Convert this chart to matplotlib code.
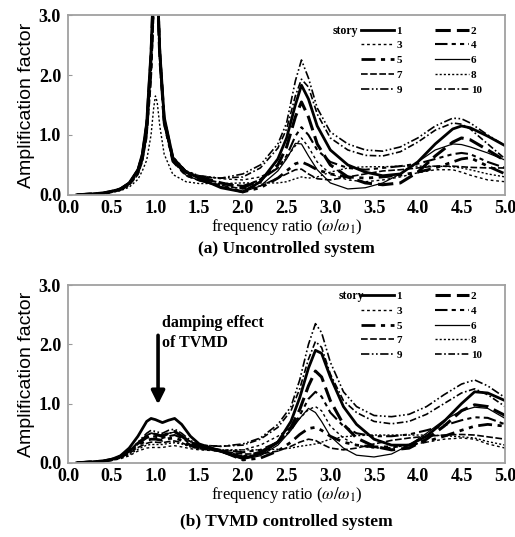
import matplotlib
matplotlib.use("Agg")
import matplotlib.pyplot as plt

plt.rcParams['font.family'] = ['Liberation Serif', 'DejaVu Serif']
plt.rcParams['mathtext.fontset'] = 'stix'

# frequency ratio grid, panel (a) uncontrolled
xa = [0.1, 0.2, 0.4, 0.5, 0.6, 0.7, 0.8, 0.85, 0.9, 0.95, 0.98, 1.0, 1.02, 1.05, 1.1, 1.2, 1.35, 1.5, 1.75,
      2.0, 2.2, 2.4, 2.5, 2.6, 2.67, 2.75, 2.85, 3.0, 3.2, 3.4, 3.6, 3.8, 4.0, 4.2, 4.4, 4.5, 4.6, 4.8, 5.0]

a1 = [0, 0.01, 0.03, 0.06, 0.1, 0.2, 0.42, 0.68, 1.2, 2.4, 3.6, 4.0, 3.6, 2.4, 1.3, 0.62, 0.38, 0.28, 0.12,
      0.05, 0.22, 0.6, 0.95, 1.5, 1.83, 1.6, 1.15, 0.75, 0.5, 0.38, 0.32, 0.35, 0.55, 0.85, 1.1, 1.15, 1.12, 0.98, 0.82]
a2 = [0, 0.01, 0.03, 0.06, 0.1, 0.19, 0.4, 0.65, 1.15, 2.3, 3.5, 4.0, 3.5, 2.3, 1.25, 0.6, 0.38, 0.3, 0.2,
      0.12, 0.25, 0.5, 0.8, 1.3, 1.55, 1.3, 0.85, 0.5, 0.3, 0.2, 0.17, 0.2, 0.38, 0.65, 0.88, 0.95, 0.92, 0.75, 0.57]
a3 = [0, 0.01, 0.02, 0.05, 0.09, 0.17, 0.36, 0.58, 1.0, 2.0, 3.2, 4.0, 3.8, 2.5, 1.3, 0.64, 0.4, 0.32, 0.27,
      0.25, 0.3, 0.45, 0.62, 0.82, 0.95, 0.8, 0.55, 0.35, 0.25, 0.22, 0.25, 0.3, 0.37, 0.42, 0.42, 0.38, 0.33, 0.25, 0.22]
a4 = [0, 0.01, 0.03, 0.06, 0.1, 0.19, 0.4, 0.64, 1.12, 2.25, 3.4, 4.0, 3.5, 2.3, 1.22, 0.58, 0.36, 0.28, 0.2,
      0.15, 0.25, 0.45, 0.65, 0.98, 1.13, 1.0, 0.75, 0.55, 0.45, 0.42, 0.45, 0.48, 0.52, 0.6, 0.68, 0.7, 0.68, 0.55, 0.45]
a5 = [0, 0.01, 0.02, 0.05, 0.09, 0.17, 0.37, 0.6, 1.05, 2.1, 3.3, 4.0, 3.6, 2.35, 1.2, 0.56, 0.33, 0.25, 0.15,
      0.05, 0.12, 0.28, 0.4, 0.52, 0.55, 0.5, 0.42, 0.35, 0.3, 0.28, 0.3, 0.33, 0.38, 0.45, 0.55, 0.6, 0.62, 0.48, 0.35]
a6 = [0, 0.01, 0.03, 0.06, 0.11, 0.21, 0.44, 0.7, 1.25, 2.5, 3.7, 4.0, 3.4, 2.2, 1.15, 0.56, 0.33, 0.24, 0.14,
      0.05, 0.15, 0.4, 0.6, 0.86, 0.85, 0.65, 0.42, 0.2, 0.1, 0.12, 0.2, 0.35, 0.55, 0.75, 0.85, 0.84, 0.8, 0.7, 0.58]
a7 = [0, 0.01, 0.02, 0.05, 0.09, 0.16, 0.34, 0.55, 0.95, 1.9, 3.0, 3.8, 3.7, 2.5, 1.25, 0.56, 0.32, 0.24, 0.16,
      0.1, 0.15, 0.28, 0.35, 0.42, 0.43, 0.35, 0.27, 0.25, 0.3, 0.35, 0.4, 0.42, 0.45, 0.48, 0.48, 0.47, 0.46, 0.45, 0.45]
a8 = [0, 0.01, 0.02, 0.04, 0.07, 0.13, 0.26, 0.4, 0.58, 1.0, 1.45, 1.65, 1.55, 1.15, 0.68, 0.34, 0.22, 0.19, 0.19,
      0.2, 0.2, 0.2, 0.22, 0.27, 0.3, 0.28, 0.3, 0.38, 0.45, 0.47, 0.47, 0.48, 0.48, 0.48, 0.47, 0.45, 0.42, 0.35, 0.3]
a9 = [0, 0.01, 0.03, 0.06, 0.1, 0.2, 0.42, 0.67, 1.18, 2.35, 3.5, 4.0, 3.6, 2.4, 1.28, 0.62, 0.4, 0.32, 0.28,
      0.35, 0.5, 0.85, 1.2, 1.9, 2.25, 1.95, 1.45, 1.05, 0.85, 0.75, 0.73, 0.8, 0.95, 1.15, 1.28, 1.27, 1.2, 1.0, 0.82]
a10 = [0, 0.01, 0.03, 0.06, 0.1, 0.19, 0.41, 0.66, 1.15, 2.3, 3.5, 4.0, 3.6, 2.4, 1.25, 0.6, 0.38, 0.3, 0.28,
       0.3, 0.45, 0.78, 1.1, 1.65, 1.93, 1.8, 1.35, 0.95, 0.75, 0.66, 0.65, 0.72, 0.88, 1.08, 1.2, 1.18, 1.1, 0.85, 0.6]

# frequency ratio grid, panel (b) TVMD controlled
xb = [0.1, 0.2, 0.4, 0.5, 0.6, 0.7, 0.8, 0.9, 0.95, 1.0, 1.08, 1.15, 1.22, 1.3, 1.4, 1.5, 1.75,
      2.0, 2.2, 2.4, 2.55, 2.65, 2.75, 2.83, 2.9, 3.0, 3.15, 3.3, 3.5, 3.7, 3.9, 4.1, 4.3, 4.5, 4.65, 4.8, 5.0]

b1 = [0, 0.01, 0.03, 0.06, 0.12, 0.25, 0.45, 0.7, 0.75, 0.73, 0.68, 0.72, 0.75, 0.65, 0.45, 0.32, 0.2,
      0.08, 0.15, 0.35, 0.7, 1.1, 1.6, 1.9, 1.85, 1.45, 0.95, 0.65, 0.4, 0.3, 0.3, 0.45, 0.7, 1.0, 1.2, 1.18, 1.05]
b2 = [0, 0.01, 0.03, 0.06, 0.11, 0.2, 0.33, 0.45, 0.5, 0.48, 0.45, 0.5, 0.53, 0.45, 0.35, 0.28, 0.2,
      0.1, 0.18, 0.35, 0.6, 0.9, 1.3, 1.55, 1.45, 1.05, 0.65, 0.42, 0.28, 0.22, 0.25, 0.4, 0.62, 0.88, 0.98, 0.95, 0.8]
b3 = [0, 0.01, 0.02, 0.04, 0.07, 0.12, 0.2, 0.25, 0.26, 0.26, 0.26, 0.28, 0.29, 0.27, 0.24, 0.22, 0.2,
      0.22, 0.3, 0.45, 0.6, 0.75, 0.9, 0.95, 0.88, 0.62, 0.42, 0.3, 0.25, 0.26, 0.3, 0.35, 0.4, 0.42, 0.4, 0.32, 0.25]
b4 = [0, 0.01, 0.03, 0.06, 0.11, 0.2, 0.32, 0.42, 0.45, 0.44, 0.42, 0.45, 0.47, 0.42, 0.33, 0.27, 0.22,
      0.18, 0.22, 0.35, 0.55, 0.8, 1.08, 1.2, 1.12, 0.85, 0.62, 0.5, 0.45, 0.45, 0.48, 0.55, 0.63, 0.72, 0.77, 0.76, 0.65]
b5 = [0, 0.01, 0.03, 0.05, 0.1, 0.18, 0.3, 0.38, 0.4, 0.4, 0.38, 0.41, 0.42, 0.38, 0.3, 0.25, 0.2,
      0.05, 0.08, 0.2, 0.35, 0.48, 0.58, 0.6, 0.55, 0.45, 0.35, 0.3, 0.27, 0.27, 0.3, 0.36, 0.45, 0.55, 0.62, 0.65, 0.62]
b6 = [0, 0.01, 0.03, 0.06, 0.11, 0.2, 0.33, 0.46, 0.5, 0.49, 0.46, 0.5, 0.52, 0.46, 0.36, 0.29, 0.18,
      0.06, 0.12, 0.3, 0.55, 0.75, 0.92, 0.85, 0.7, 0.45, 0.25, 0.13, 0.1, 0.15, 0.3, 0.5, 0.72, 0.88, 0.94, 0.92, 0.75]
b7 = [0, 0.01, 0.02, 0.05, 0.09, 0.16, 0.26, 0.33, 0.35, 0.35, 0.34, 0.36, 0.37, 0.34, 0.28, 0.24, 0.2,
      0.15, 0.15, 0.2, 0.28, 0.35, 0.4, 0.38, 0.32, 0.25, 0.22, 0.25, 0.32, 0.38, 0.42, 0.45, 0.47, 0.48, 0.47, 0.44, 0.4]
b8 = [0, 0.01, 0.02, 0.04, 0.08, 0.14, 0.23, 0.3, 0.31, 0.31, 0.31, 0.33, 0.34, 0.32, 0.27, 0.24, 0.22,
      0.22, 0.22, 0.23, 0.25, 0.28, 0.3, 0.32, 0.35, 0.4, 0.44, 0.46, 0.47, 0.47, 0.47, 0.47, 0.46, 0.44, 0.42, 0.36, 0.3]
b9 = [0, 0.01, 0.03, 0.06, 0.1, 0.2, 0.35, 0.5, 0.55, 0.53, 0.5, 0.55, 0.57, 0.5, 0.38, 0.3, 0.28,
      0.32, 0.42, 0.65, 0.95, 1.4, 2.0, 2.35, 2.2, 1.7, 1.2, 0.95, 0.8, 0.78, 0.82, 0.95, 1.15, 1.33, 1.4, 1.3, 1.1]
b10 = [0, 0.01, 0.03, 0.06, 0.1, 0.19, 0.33, 0.47, 0.5, 0.49, 0.47, 0.5, 0.52, 0.46, 0.36, 0.3, 0.28,
       0.3, 0.4, 0.6, 0.88, 1.25, 1.75, 2.05, 1.95, 1.5, 1.05, 0.85, 0.7, 0.66, 0.7, 0.82, 1.0, 1.18, 1.25, 1.15, 0.95]

stories = ['1', '2', '3', '4', '5', '6', '7', '8', '9', '10']
xticks = [0.0, 0.5, 1.0, 1.5, 2.0, 2.5, 3.0, 3.5, 4.0, 4.5, 5.0]
yticks = [0.0, 1.0, 2.0, 3.0]

# line style for each story: (linestyle, linewidth)
styles = [
    ('-', 2.0),
    ((0, (5, 2)), 2.2),
    ((0, (2, 2)), 1.0),
    ((0, (6, 2, 2, 2, 2, 2)), 1.5),
    ((0, (5, 2, 1.5, 2, 1.5, 2)), 2.0),
    ('-', 0.9),
    ((0, (4, 1.5)), 1.2),
    ((0, (1.5, 1.5)), 1.0),
    ((0, (5, 1.5, 1, 1.5, 1, 1.5)), 1.2),
    ((0, (4, 1.5, 1, 1.5)), 1.2),
]


def draw_panel(ax, x, series, title, title_y, story_x, legend_top, story_y):
    lines = []
    for y, (ls, lw), lab in zip(series, styles, stories):
        ln, = ax.plot(x, y, color='black', linestyle=ls, linewidth=lw, label=lab)
        lines.append(ln)
    ax.set_xlim(0, 5)
    ax.set_ylim(0, 3)
    ax.set_xticks(xticks)
    ax.set_xticklabels(['%.1f' % t for t in xticks])
    ax.set_yticks(yticks)
    ax.set_yticklabels(['%.1f' % t for t in yticks])
    for lbl in ax.get_xticklabels() + ax.get_yticklabels():
        lbl.set_fontweight('bold')
        lbl.set_fontsize(13)
    ax.tick_params(axis='x', length=0, pad=4)
    ax.tick_params(axis='y', direction='in', length=3, color='#999999', pad=5)
    for sp in ax.spines.values():
        sp.set_color('#a0a0a0')
        sp.set_linewidth(1.3)
    ax.set_ylabel('Amplification factor', family='Liberation Sans', fontsize=14, labelpad=3)
    ax.set_xlabel(r'frequency ratio ($\omega/\omega_1$)', fontsize=12, labelpad=0)
    ax.text(0.5, title_y, title, transform=ax.transAxes, ha='center', va='center',
            fontsize=12.5, fontweight='bold')

    order = [0, 2, 4, 6, 8, 1, 3, 5, 7, 9]
    ax.legend([lines[i] for i in order], [stories[i] for i in order], ncol=2, frameon=False,
              loc='upper left', bbox_to_anchor=(0.67, legend_top), borderaxespad=0, borderpad=0,
              handlelength=3.0, handletextpad=0.2, columnspacing=3.0, labelspacing=0.45,
              prop={'family': 'Liberation Serif', 'weight': 'bold', 'size': 8})
    ax.text(story_x, story_y, 'story', transform=ax.transAxes, ha='left', va='center',
            fontsize=8.5, fontweight='bold')


fig = plt.figure(figsize=(5.15, 5.37), dpi=100)
ax1 = fig.add_axes([0.132, 0.637, 0.849, 0.335])
ax2 = fig.add_axes([0.132, 0.138, 0.849, 0.331])

draw_panel(ax1, xa, [a1, a2, a3, a4, a5, a6, a7, a8, a9, a10], '(a) Uncontrolled system',
           -0.30, 0.605, 0.94, 0.911)
draw_panel(ax2, xb, [b1, b2, b3, b4, b5, b6, b7, b8, b9, b10], '(b) TVMD controlled system',
           -0.33, 0.62, 0.966, 0.938)

# arrow showing the damping effect
ax2.annotate('', xy=(1.03, 0.94), xytext=(1.03, 2.2),
             arrowprops=dict(arrowstyle='-|>', color='black', lw=2.6, mutation_scale=20))
ax2.text(1.08, 2.36, 'damping effect', fontsize=11.5, fontweight='bold', ha='left', va='center')
ax2.text(1.08, 2.02, 'of TVMD', fontsize=11.5, fontweight='bold', ha='left', va='center')

fig.savefig('out.png', dpi=100)
